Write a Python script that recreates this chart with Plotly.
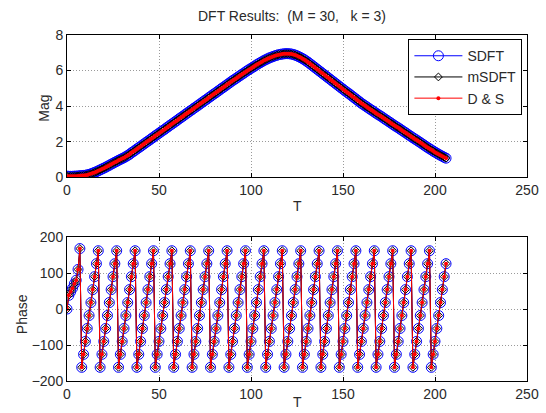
import plotly.graph_objects as go

# Sample index T
T = list(range(207))

# Magnitude of bin k (all three methods coincide)
mag_sdft = [
    0.06, 0.05, 0.05, 0.05, 0.06, 0.06, 0.07, 0.08, 0.09, 0.10,
    0.11, 0.13, 0.16, 0.19, 0.23, 0.27, 0.31, 0.36, 0.41, 0.46,
    0.51, 0.56, 0.62, 0.67, 0.73, 0.78, 0.84, 0.89, 0.95, 1.00,
    1.05, 1.10, 1.16, 1.22, 1.29, 1.37, 1.44, 1.51, 1.59, 1.66,
    1.73, 1.81, 1.88, 1.96, 2.03, 2.10, 2.18, 2.25, 2.33, 2.40,
    2.47, 2.55, 2.62, 2.69, 2.77, 2.84, 2.92, 2.99, 3.06, 3.14,
    3.21, 3.29, 3.36, 3.43, 3.51, 3.58, 3.66, 3.73, 3.80, 3.88,
    3.95, 4.02, 4.10, 4.17, 4.25, 4.32, 4.39, 4.47, 4.54, 4.62,
    4.69, 4.76, 4.84, 4.91, 4.99, 5.06, 5.13, 5.21, 5.28, 5.36,
    5.43, 5.50, 5.57, 5.64, 5.71, 5.78, 5.85, 5.92, 5.99, 6.06,
    6.12, 6.19, 6.25, 6.32, 6.38, 6.44, 6.50, 6.56, 6.61, 6.66,
    6.71, 6.75, 6.79, 6.83, 6.86, 6.89, 6.91, 6.93, 6.94, 6.95,
    6.95, 6.94, 6.93, 6.90, 6.87, 6.83, 6.78, 6.73, 6.67, 6.61,
    6.54, 6.47, 6.39, 6.31, 6.23, 6.15, 6.07, 5.99, 5.91, 5.83,
    5.75, 5.67, 5.59, 5.51, 5.43, 5.35, 5.27, 5.19, 5.11, 5.03,
    4.95, 4.87, 4.79, 4.72, 4.64, 4.56, 4.48, 4.40, 4.32, 4.24,
    4.16, 4.09, 4.02, 3.95, 3.88, 3.81, 3.74, 3.67, 3.60, 3.53,
    3.47, 3.40, 3.33, 3.26, 3.19, 3.12, 3.05, 2.98, 2.91, 2.84,
    2.78, 2.71, 2.64, 2.57, 2.50, 2.43, 2.36, 2.29, 2.22, 2.15,
    2.09, 2.02, 1.95, 1.88, 1.81, 1.74, 1.67, 1.60, 1.54, 1.47,
    1.41, 1.35, 1.29, 1.23, 1.18, 1.12, 1.07,
]
mag_msdft = mag_sdft
mag_ds = mag_sdft

# Phase in degrees
phase_sdft = [
    0, 38, 48, 58, 70, 80, 110, 168,
    -162, -126, -90, -54, -18, 18, 54, 90, 126, 162,
    -162, -126, -90, -54, -18, 18, 54, 90, 126, 162,
    -162, -126, -90, -54, -18, 18, 54, 90, 126, 162,
    -162, -126, -90, -54, -18, 18, 54, 90, 126, 162,
    -162, -126, -90, -54, -18, 18, 54, 90, 126, 162,
    -162, -126, -90, -54, -18, 18, 54, 90, 126, 162,
    -162, -126, -90, -54, -18, 18, 54, 90, 126, 162,
    -162, -126, -90, -54, -18, 18, 54, 90, 126, 162,
    -162, -126, -90, -54, -18, 18, 54, 90, 126, 162,
    -162, -126, -90, -54, -18, 18, 54, 90, 126, 162,
    -162, -126, -90, -54, -18, 18, 54, 90, 126, 162,
    -162, -126, -90, -54, -18, 18, 54, 90, 126, 162,
    -162, -126, -90, -54, -18, 18, 54, 90, 126, 162,
    -162, -126, -90, -54, -18, 18, 54, 90, 126, 162,
    -162, -126, -90, -54, -18, 18, 54, 90, 126, 162,
    -162, -126, -90, -54, -18, 18, 54, 90, 126, 162,
    -162, -126, -90, -54, -18, 18, 54, 90, 126, 162,
    -162, -126, -90, -54, -18, 18, 54, 90, 126, 162,
    -162, -126, -90, -54, -18, 18, 54, 90, 126, 162,
    -162, -126, -90, -54, -18, 18, 54, 90, 126,
]
phase_msdft = phase_sdft
phase_ds = phase_sdft

series_names = ["SDFT", "mSDFT", "D & S"]
x_ticks = [0, 50, 100, 150, 200, 250]
mag_ticks = [0, 2, 4, 6, 8]
phase_ticks = [-200, -100, 0, 100, 200]
NB = "\u00a0"
title_text = "DFT Results:" + NB * 2 + "(M = 30," + NB * 3 + "k = 3)"

FONT = "Liberation Sans, Arial, sans-serif"
TXT = "#2a2a2a"
FS = 14

styles = [
    dict(color="#0000ff", symbol="circle-open", size=10, mw=1),
    dict(color="#000000", symbol="diamond-open", size=6, mw=1),
    dict(color="#ff0000", symbol="circle", size=4, mw=0),
]

fig = go.Figure()
mags = [mag_sdft, mag_msdft, mag_ds]
phases = [phase_sdft, phase_msdft, phase_ds]
for name, m, p, st in zip(series_names, mags, phases, styles):
    marker = dict(symbol=st["symbol"], size=st["size"], color=st["color"],
                  line=dict(color=st["color"], width=st["mw"]))
    fig.add_trace(go.Scatter(x=T, y=m, mode="lines+markers", name=name,
                             line=dict(color=st["color"], width=1),
                             marker=marker, xaxis="x", yaxis="y"))
    fig.add_trace(go.Scatter(x=T, y=p, mode="lines+markers", name=name,
                             showlegend=False,
                             line=dict(color=st["color"], width=1),
                             marker=marker, xaxis="x2", yaxis="y2"))

axis_common = dict(
    showline=True, linecolor="black", linewidth=1, mirror="ticks",
    ticks="inside", ticklen=4, tickcolor="black",
    showgrid=True, gridcolor="#9a9a9a", griddash="1px,2px", gridwidth=1,
    zeroline=False, tickfont=dict(family=FONT, size=FS, color=TXT),
)

def label(text, x, y, angle=0, size=FS):
    return dict(text=text, x=x, y=y, xref="paper", yref="paper",
                xanchor="center", yanchor="middle", showarrow=False,
                textangle=angle, font=dict(family=FONT, size=size, color=TXT))

fig.update_layout(
    width=546, height=413,
    margin=dict(l=67, r=7, t=35, b=32),
    paper_bgcolor="white", plot_bgcolor="white",
    font=dict(family=FONT, size=FS, color=TXT),
    xaxis=dict(domain=[0, 1], range=[0, 250], tickvals=x_ticks, anchor="y",
               ticklabeloverflow="allow", **axis_common),
    yaxis=dict(domain=[0.589, 1], range=[0, 8], tickvals=mag_ticks, anchor="x", **axis_common),
    xaxis2=dict(domain=[0, 1], range=[0, 250], tickvals=x_ticks, anchor="y2",
                ticklabeloverflow="allow", **axis_common),
    yaxis2=dict(domain=[0, 0.416], range=[-200, 200], tickvals=phase_ticks, anchor="x2", **axis_common),
    legend=dict(x=0.990, y=0.988, xanchor="right", yanchor="top",
                bgcolor="white", bordercolor="black", borderwidth=1,
                font=dict(family=FONT, size=FS, color=TXT),
                tracegroupgap=0, itemwidth=48),
    showlegend=True,
    annotations=[
        label(title_text, 0.49, 1.055),
        label("T", 0.5, 0.506),
        label("T", 0.5, -0.062),
        label("Mag", -0.05, 0.787, angle=-90),
        label("Phase", -0.098, 0.193, angle=-90),
    ],
)

fig.write_html("out.html",
               config={"displayModeBar": False},
               post_script="document.body.style.margin='0';document.body.style.overflow='hidden';")
